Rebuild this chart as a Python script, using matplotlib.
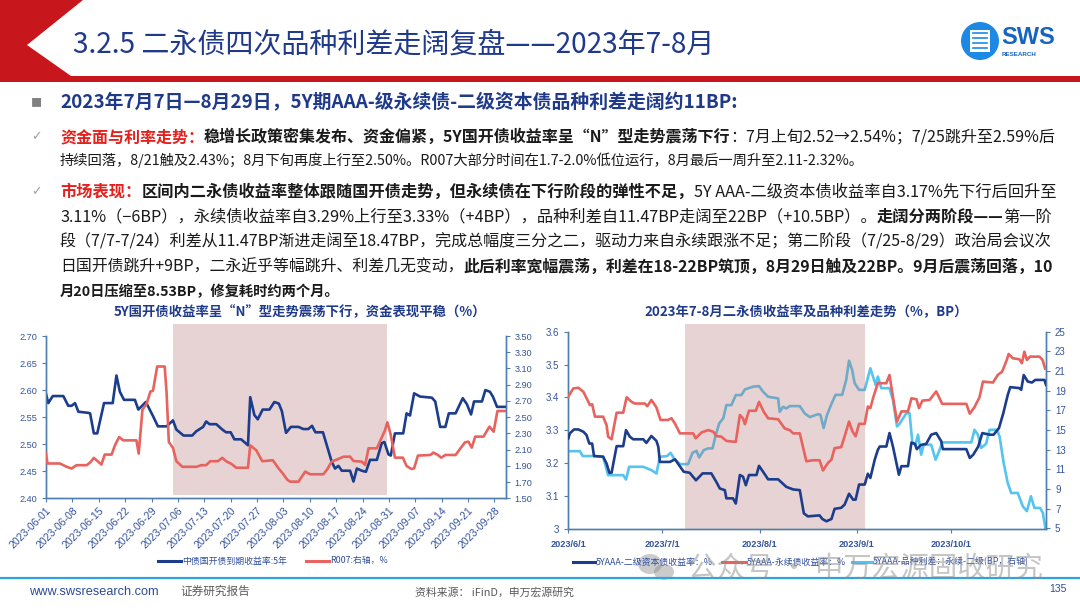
import numpy as np
import pandas as pd
import matplotlib
matplotlib.use('Agg')
import matplotlib.pyplot as plt
import matplotlib.dates as mdates
from matplotlib.patches import Rectangle, Polygon, Ellipse
from matplotlib.lines import Line2D
from matplotlib.ticker import FuncFormatter

# ---------------- data (day offsets from 2023-06-01) -------------
start = pd.Timestamp('2023-06-01')

# left chart: 5Y CDB yield (left axis) and R007 (right axis)
cdb_day = [0, 0.6, 1.8, 4.6, 5.9, 6.8, 7.7, 8.6, 11.2, 11.7, 12.7, 13.6, 15.4, 17.7, 18.7, 19.6,
           20.7, 23.6, 24.5, 26.5, 28.4, 29.7, 32.0, 33.7, 34.6, 36.5, 38.8, 39.9, 41.7, 42.5,
           43.4, 45.2, 46.8, 47.8, 49.0, 50.0, 51.8, 53.6, 54.2, 55.3, 56.2, 57.5, 59.3, 60.6,
           61.8, 62.6, 63.7, 65.0, 67.0, 68.3, 69.6, 70.6, 71.5, 73.5, 75.8, 76.7, 77.6, 78.5,
           80.7, 81.6, 82.5, 83.8, 84.9, 86.0, 87.8, 89.1, 89.8, 90.9, 91.5, 92.6, 94.8, 95.7,
           96.6, 97.7, 99.3, 102.4, 103.3, 104.6, 106.0, 106.9, 108.7, 110.6, 111.7, 112.8,
           113.6, 115.7, 116.6, 117.8, 118.6, 119.7, 121.9]
cdb_val = [2.593, 2.576, 2.589, 2.589, 2.571, 2.571, 2.576, 2.560, 2.558, 2.557, 2.520, 2.520,
           2.576, 2.576, 2.627, 2.597, 2.582, 2.582, 2.564, 2.578, 2.552, 2.533, 2.533, 2.544,
           2.527, 2.516, 2.516, 2.524, 2.532, 2.542, 2.537, 2.537, 2.527, 2.522, 2.522, 2.509,
           2.509, 2.498, 2.587, 2.554, 2.546, 2.564, 2.564, 2.578, 2.575, 2.561, 2.521, 2.532,
           2.532, 2.528, 2.528, 2.534, 2.522, 2.522, 2.468, 2.455, 2.460, 2.451, 2.451, 2.431,
           2.455, 2.451, 2.449, 2.471, 2.471, 2.502, 2.504, 2.481, 2.479, 2.520, 2.520, 2.557,
           2.553, 2.594, 2.588, 2.586, 2.579, 2.532, 2.532, 2.557, 2.557, 2.585, 2.574, 2.555,
           2.579, 2.579, 2.600, 2.597, 2.588, 2.569, 2.569]

r007_day = [0, 0.4, 3.7, 5.5, 6.8, 8.1, 10.8, 11.7, 12.7, 13.9, 14.7, 15.6, 17.4, 18.3, 19.4,
            20.5, 24.0, 24.6, 25.6, 26.7, 27.7, 28.4, 29.5, 31.5, 32.0, 32.6, 33.7, 34.6, 36.2,
            39.9, 41.2, 42.5, 43.6, 45.6, 46.8, 47.8, 49.2, 50.5, 53.6, 54.2, 55.8, 57.4, 60.2,
            61.7, 62.8, 64.1, 64.8, 67.0, 68.8, 70.1, 73.6, 74.7, 75.8, 77.6, 79.0, 80.7, 81.6,
            83.8, 84.7, 85.6, 87.8, 88.8, 89.9, 90.6, 91.5, 92.6, 94.7, 95.7, 97.0, 97.7, 98.7,
            102.0, 102.8, 104.0, 104.9, 106.0, 108.7, 110.0, 111.2, 112.1, 113.0, 113.9, 116.1,
            117.7, 118.8, 119.8, 121.9]
r007_val = [2.051, 1.929, 1.929, 1.888, 1.867, 1.908, 1.908, 1.941, 1.998, 1.949, 1.916, 2.039,
            2.039, 2.153, 2.255, 2.214, 2.214, 2.051, 2.594, 2.663, 2.814, 2.827, 3.124, 3.124,
            2.800, 2.194, 2.120, 1.957, 1.888, 1.888, 1.908, 1.908, 1.957, 1.957, 1.998, 1.957,
            1.924, 1.876, 1.876, 2.153, 2.092, 1.957, 1.969, 1.870, 1.808, 1.726, 1.705, 1.705,
            1.829, 1.796, 1.796, 1.861, 1.952, 1.985, 2.013, 2.013, 1.960, 1.952, 1.911, 2.116,
            2.116, 2.219, 2.330, 2.436, 2.280, 2.001, 2.001, 1.898, 1.861, 1.870, 2.026, 2.034,
            2.063, 2.034, 2.001, 2.034, 2.034, 2.116, 2.190, 2.198, 2.124, 2.260, 2.260, 2.383,
            2.321, 2.576, 2.576]

# right chart: 5Y AAA- tier2 yield, perpetual yield (left axis), spread in BP (right axis)
t2_day = [0, 0.5, 1.8, 3.2, 4.8, 5.8, 6.7, 7.6, 8.2, 11.1, 12.2, 13.1, 13.8, 15.4, 17.5, 18.4,
          19.6, 20.7, 23.9, 24.9, 26.5, 28.1, 28.7, 29.2, 32.4, 34.0, 36.8, 38.7, 40.7, 42.8,
          45.6, 47.2, 48.3, 49.9, 50.4, 52.5, 53.4, 54.7, 55.7, 56.6, 57.6, 60.0, 60.8, 62.1,
          63.7, 66.9, 69.5, 71.7, 73.8, 75.1, 76.4, 80.1, 81.0, 82.3, 83.9, 84.9, 87.0, 88.1,
          89.5, 90.8, 91.6, 92.7, 94.5, 95.5, 96.3, 97.7, 98.7, 99.3, 101.4, 102.4, 103.5, 105.4,
          106.2, 108.3, 109.4, 110.5, 111.1, 112.5, 114.1, 115.7, 117.3, 118.9, 119.4, 126.9,
          128.0, 129.1, 130.7, 132.0, 134.3, 135.6, 137.3, 138.7, 140.1, 140.9, 143.8, 144.4,
          145.2, 146.5, 147.8, 148.9, 151.8, 152.3]
t2_val = [3.275, 3.290, 3.302, 3.302, 3.295, 3.285, 3.259, 3.259, 3.221, 3.219, 3.198, 3.170,
          3.170, 3.251, 3.251, 3.300, 3.280, 3.272, 3.272, 3.261, 3.282, 3.267, 3.249, 3.203,
          3.203, 3.211, 3.173, 3.170, 3.147, 3.168, 3.168, 3.142, 3.122, 3.117, 3.092, 3.092,
          3.076, 3.163, 3.158, 3.132, 3.163, 3.163, 3.191, 3.173, 3.150, 3.150, 3.127, 3.119,
          3.117, 3.046, 3.037, 3.040, 3.029, 3.022, 3.029, 3.060, 3.063, 3.073, 3.106, 3.088,
          3.088, 3.134, 3.134, 3.167, 3.154, 3.210, 3.240, 3.250, 3.250, 3.291, 3.250, 3.164,
          3.190, 3.190, 3.262, 3.258, 3.242, 3.255, 3.258, 3.286, 3.291, 3.266, 3.242, 3.242,
          3.215, 3.225, 3.250, 3.291, 3.286, 3.286, 3.306, 3.352, 3.407, 3.431, 3.428, 3.423,
          3.468, 3.448, 3.445, 3.453, 3.453, 3.438]

perp_day = [0, 0.5, 1.6, 3.2, 4.8, 6.1, 6.9, 7.6, 8.5, 11.1, 12.2, 12.7, 13.8, 15.4, 17.5, 18.6,
            20.2, 21.2, 24.4, 25.2, 26.5, 28.1, 29.4, 31.8, 32.9, 34.0, 35.6, 39.8, 40.6, 42.5,
            44.6, 46.2, 47.2, 48.8, 50.4, 53.4, 54.7, 55.7, 56.3, 57.6, 59.8, 60.8, 62.3, 63.7,
            66.9, 69.0, 70.6, 71.7, 73.8, 74.8, 75.9, 78.0, 80.1, 81.2, 82.8, 83.9, 84.9, 87.0,
            88.1, 89.5, 90.6, 91.6, 92.7, 94.5, 95.5, 96.3, 97.3, 98.7, 101.4, 102.4, 103.5,
            104.8, 106.2, 108.3, 109.4, 111.0, 111.8, 112.9, 115.2, 117.3, 119.2, 126.9, 128.0,
            129.5, 131.1, 132.2, 135.4, 136.9, 138.3, 139.8, 140.4, 141.7, 143.8, 144.6, 145.4,
            146.2, 147.2, 150.2, 151.2, 152.0]
perp_val = [3.402, 3.410, 3.427, 3.429, 3.417, 3.392, 3.376, 3.379, 3.341, 3.341, 3.315, 3.280,
            3.272, 3.353, 3.353, 3.400, 3.386, 3.381, 3.381, 3.373, 3.392, 3.369, 3.331, 3.331,
            3.336, 3.320, 3.290, 3.290, 3.275, 3.293, 3.300, 3.295, 3.282, 3.280, 3.267, 3.264,
            3.346, 3.336, 3.318, 3.359, 3.359, 3.386, 3.356, 3.336, 3.333, 3.305, 3.300, 3.290,
            3.290, 3.249, 3.205, 3.208, 3.208, 3.177, 3.200, 3.210, 3.245, 3.248, 3.281, 3.326,
            3.296, 3.281, 3.319, 3.319, 3.372, 3.367, 3.402, 3.443, 3.443, 3.468, 3.402, 3.326,
            3.357, 3.357, 3.397, 3.394, 3.367, 3.390, 3.392, 3.418, 3.380, 3.380, 3.350, 3.370,
            3.400, 3.448, 3.445, 3.468, 3.478, 3.514, 3.532, 3.519, 3.516, 3.504, 3.539, 3.514,
            3.524, 3.524, 3.514, 3.488]

spr_day = [0, 3.7, 4.6, 8.0, 11.1, 12.7, 17.5, 18.4, 19.4, 23.9, 25.2, 26.5, 28.1, 29.2, 31.5,
           32.6, 33.7, 35.6, 38.2, 39.6, 40.9, 41.7, 43.2, 44.6, 46.0, 47.0, 48.1, 49.4, 50.4,
           52.0, 53.4, 55.2, 56.3, 58.9, 60.8, 62.1, 63.7, 66.9, 67.4, 68.5, 69.5, 70.6, 73.8,
           75.4, 77.0, 79.6, 80.4, 81.4, 82.5, 83.9, 85.2, 87.3, 88.6, 89.5, 90.5, 91.3, 92.7,
           94.5, 96.3, 97.3, 98.0, 98.7, 99.8, 102.4, 103.5, 104.8, 105.6, 107.8, 108.8, 109.7,
           110.7, 111.5, 112.5, 113.3, 115.7, 117.1, 118.2, 119.2, 128.5, 129.5, 130.6, 131.6,
           133.2, 134.3, 136.6, 137.5, 138.8, 140.1, 141.2, 143.3, 144.9, 146.2, 147.5, 148.6,
           150.4, 151.3, 152.1]
spr_val = [12.86, 12.86, 12.36, 12.36, 12.29, 10.42, 10.42, 9.98, 11.27, 11.27, 11.10, 10.93,
           10.59, 12.29, 12.36, 12.69, 12.12, 11.54, 11.54, 12.69, 12.90, 12.22, 12.97, 13.14,
           13.14, 14.49, 15.68, 16.19, 17.54, 17.54, 18.56, 18.56, 19.14, 19.41, 19.47, 18.90,
           18.39, 18.22, 16.86, 17.37, 17.20, 17.44, 17.44, 16.69, 16.32, 16.62, 16.55, 15.20,
           16.55, 17.67, 18.58, 18.58, 20.10, 22.06, 21.11, 19.76, 19.09, 19.09, 21.28, 20.27,
           19.59, 20.44, 19.26, 19.26, 18.07, 15.37, 15.64, 16.72, 16.72, 13.68, 13.51, 14.53,
           12.50, 13.51, 13.51, 11.99, 12.84, 13.75, 13.75, 15.03, 14.53, 13.18, 13.61, 15.03,
           15.03, 14.36, 11.66, 9.63, 8.61, 8.61, 7.26, 6.76, 8.28, 7.09, 7.09, 6.59, 5.07]

# shaded windows (day offsets)
left_shade = (33.8, 90.4)
right_shade = (37.3, 94.6)

left_xticks = pd.date_range('2023-06-01', '2023-09-28', freq='7D')
right_xticks = pd.date_range('2023-06-01', '2023-10-01', freq='MS')

left_legend = ['中债国开债到期收益率:5年', 'R007:右轴，%']
right_legend = ['5YAAA-二级资本债收益率：%', '5YAAA-永续债收益率：%', '5YAAA-品种利差：永续-二级(BP，右轴)']

# ---------------- style ----------------
W, H = 1080, 608
CJK = ['Noto Sans CJK SC', 'DejaVu Sans']
ARIAL = ['Liberation Sans', 'DejaVu Sans']
plt.rcParams['font.family'] = CJK
NAVY = '#1F3A8A'
RED = '#E3201B'
BLK = '#1A1A1A'
AXC = '#4F7FB0'
TICKC = '#33539A'
C_NAVY = '#1C3C8C'
C_RED = '#E8625E'
C_LB = '#55C4EE'


def fx(x):
    return x / W


def fy(y):
    return 1 - y / H


def dates(days):
    return start + pd.to_timedelta(np.array(days), unit='D')


fig = plt.figure(figsize=(10.8, 6.08), dpi=100)
fig.patch.set_facecolor('white')
rend = fig.canvas.get_renderer()


def put_runs(x0, y, runs, size, fit=None):
    texts = []
    x = x0
    for s, c, w in runs:
        t = fig.text(fx(x), fy(y), s, fontsize=size, color=c, fontweight=w,
                     va='center', ha='left', family=CJK)
        texts.append(t)
        x += t.get_window_extent(rend).width
    if fit:
        k = (fit - x0) / (x - x0)
        x = x0
        for t in texts:
            t.set_fontsize(size * k)
            t.set_x(fx(x))
            x += t.get_window_extent(rend).width
    return texts


# ---------------- header ----------------
red_pts = [(0, 0), (83, 0), (27, 45), (71, 76), (1080, 76), (1080, 82), (0, 82)]
fig.patches.append(Polygon([(fx(a), fy(b)) for a, b in red_pts], closed=True,
                           transform=fig.transFigure, facecolor='#C8161D', edgecolor='none'))
put_runs(73, 45, [('3.2.5 二永债四次品种利差走阔复盘——2023年7-8月', NAVY, 'normal')], 19, fit=716)

# logo
fig.patches.append(Ellipse((fx(980), fy(41)), 38 / W, 38 / H, transform=fig.transFigure,
                           facecolor='#1E88E5', edgecolor='none'))
fig.patches.append(Rectangle((fx(970), fy(52)), 20 / W, 22 / H, transform=fig.transFigure,
                             facecolor='white', edgecolor='none'))
for yy in (33, 38, 43, 48):
    fig.add_artist(Line2D([fx(973), fx(987)], [fy(yy)] * 2, color='#1E88E5', lw=1.2,
                          transform=fig.transFigure))
fig.text(fx(1001), fy(37), 'SWS', fontsize=17, fontweight='bold', color='#1565C0',
         family=ARIAL, va='center', ha='left')
fig.text(fx(1002), fy(55), 'RESEARCH', fontsize=4.5, fontweight='bold', color='#1565C0',
         family=ARIAL, va='center', ha='left')

# ---------------- body text ----------------
fig.text(fx(31), fy(103), '■', fontsize=8, color='#808080', va='center', ha='left', family=CJK)
put_runs(60, 103, [('2023年7月7日—8月29日，5Y期AAA-级永续债-二级资本债品种利差走阔约11BP:', NAVY, 'bold')],
         11.5, fit=737)

for yy in (137, 192):
    fig.text(fx(31), fy(yy), '✓', fontsize=9, color='#A0A0A0', va='center', ha='left',
             family=['DejaVu Sans'])

R, B, N = 'bold', 'bold', 'normal'
para_lines = [
    (137, [('资金面与利率走势：', RED, R), ('稳增长政策密集发布、资金偏紧，5Y国开债收益率呈“N”型走势震荡下行', BLK, B),
           ('：7月上旬2.52→2.54%；7/25跳升至2.59%后', BLK, N)], 1052),
    (160, [('持续回落，8/21触及2.43%；8月下旬再度上行至2.50%。R007大部分时间在1.7-2.0%低位运行，8月最后一周升至2.11-2.32%。', BLK, N)], None),
    (192, [('市场表现：', RED, R), ('区间内二永债收益率整体跟随国开债走势，但永续债在下行阶段的弹性不足，', BLK, B),
           ('5Y AAA-二级资本债收益率自3.17%先下行后回升至', BLK, N)], 1052),
    (217, [('3.11%（−6BP），永续债收益率自3.29%上行至3.33%（+4BP），品种利差自11.47BP走阔至22BP（+10.5BP）。', BLK, N),
           ('走阔分两阶段——', BLK, B), ('第一阶', BLK, N)], 1052),
    (242, [('段（7/7-7/24）利差从11.47BP渐进走阔至18.47BP，完成总幅度三分之二，驱动力来自永续跟涨不足；第二阶段（7/25-8/29）政治局会议次', BLK, N)], 1052),
    (267, [('日国开债跳升+9BP，二永近乎等幅跳升、利差几无变动，', BLK, N),
           ('此后利率宽幅震荡，利差在18-22BP筑顶，8月29日触及22BP。9月后震荡回落，10', BLK, B)], 1052),
    (292, [('月20日压缩至8.53BP，修复耗时约两个月。', BLK, B)], None),
]
for yy, runs, fit in para_lines:
    put_runs(60, yy, runs, 10.3, fit=fit)

# ---------------- chart titles ----------------
fig.text(fx(300), fy(312), '5Y国开债收益率呈“N”型走势震荡下行，资金表现平稳（%）', fontsize=9.6,
         fontweight='bold', color=NAVY, ha='center', va='center')
fig.text(fx(806), fy(312), '2023年7-8月二永债收益率及品种利差走势（%，BP）', fontsize=9.6,
         fontweight='bold', color=NAVY, ha='center', va='center')


def style_axes(ax, ax2):
    for a in (ax, ax2):
        a.spines['top'].set_visible(False)
        for s in ('left', 'right', 'bottom'):
            a.spines[s].set_color(AXC)
            a.spines[s].set_linewidth(1.0)
        a.tick_params(colors=AXC, labelcolor=TICKC, labelsize=6.6, length=3, width=0.8)
        for lab in a.get_yticklabels() + a.get_xticklabels():
            lab.set_family(ARIAL)


# ---------------- left chart ----------------
axL = fig.add_axes([fx(46), fy(498.3), 459.7 / W, 162.3 / H])
axL2 = axL.twinx()
s0 = mdates.date2num(start)
axL.add_patch(Rectangle((s0 + left_shade[0], 2.406), left_shade[1] - left_shade[0], 0.316,
                        facecolor='#B07070', alpha=0.3, edgecolor='none', clip_on=False, zorder=0))
axL.plot(dates(cdb_day), cdb_val, color=C_NAVY, lw=1.9, zorder=3)
axL2.plot(dates(r007_day), r007_val, color=C_RED, lw=1.9, zorder=3)
axL.set_xlim(start, start + pd.Timedelta(days=122))
axL.set_ylim(2.40, 2.70)
axL2.set_ylim(1.50, 3.50)
axL.set_yticks(np.round(np.arange(2.40, 2.701, 0.05), 2))
axL2.set_yticks(np.round(np.arange(1.50, 3.501, 0.20), 2))
axL.yaxis.set_major_formatter(FuncFormatter(lambda v, p: f'{v:.2f}'))
axL2.yaxis.set_major_formatter(FuncFormatter(lambda v, p: f'{v:.2f}'))
axL.set_xticks(left_xticks)
axL.set_xticklabels([d.strftime('%Y-%m-%d') for d in left_xticks], rotation=45, ha='right',
                    va='top', rotation_mode='anchor')
style_axes(axL, axL2)
axL.tick_params(axis='x', labelsize=7.6, pad=2)

# ---------------- right chart ----------------
axR = fig.add_axes([fx(568.3), fy(528.5), 477.7 / W, 196.8 / H])
axR2 = axR.twinx()
axR.set_zorder(axR2.get_zorder() + 1)
axR.patch.set_visible(False)
axR2.plot(dates(spr_day), spr_val, color=C_LB, lw=1.9, zorder=2)
axR.add_patch(Rectangle((s0 + right_shade[0], 3.0), right_shade[1] - right_shade[0], 0.623,
                        facecolor='#B07070', alpha=0.3, edgecolor='none', clip_on=False, zorder=0))
axR.plot(dates(perp_day), perp_val, color=C_RED, lw=1.9, zorder=3)
axR.plot(dates(t2_day), t2_val, color=C_NAVY, lw=1.9, zorder=4)
axR.set_xlim(start, start + pd.Timedelta(days=152.3))
axR.set_ylim(3.0, 3.6)
axR2.set_ylim(5, 25)
axR.set_yticks(np.round(np.arange(3.0, 3.61, 0.1), 1))
axR2.set_yticks(np.arange(5, 26, 2))
axR.yaxis.set_major_formatter(FuncFormatter(lambda v, p: f'{v:g}'))
axR.set_xticks(right_xticks)
axR.set_xticklabels([f'{d.year}/{d.month}/{d.day}' for d in right_xticks], fontweight='bold')
style_axes(axR, axR2)
axR.tick_params(axis='x', labelsize=6.6, pad=5)
axR.tick_params(axis='y', labelsize=7)
axR2.tick_params(axis='y', labelsize=7)


# ---------------- legends ----------------
def legend_item(x1, x2, y, color, label):
    fig.add_artist(Line2D([fx(x1), fx(x2)], [fy(y)] * 2, color=color, lw=2.2,
                          transform=fig.transFigure))
    fig.text(fx(x2 + 1), fy(y), label, fontsize=6.4, color='#2E4E9E', va='center', ha='left')


legend_item(158, 181, 561, C_NAVY, left_legend[0])
legend_item(306, 329, 561, C_RED, left_legend[1])
legend_item(573, 595, 562, C_NAVY, right_legend[0])
legend_item(722, 746, 562, C_RED, right_legend[1])
legend_item(852, 872, 562, C_LB, right_legend[2])

# watermark (WeChat overlay in the reference)
fig.patches.append(Ellipse((fx(650), fy(564)), 24 / W, 20 / H, transform=fig.transFigure,
                           facecolor='#8c8c8c', alpha=0.45, edgecolor='none'))
fig.patches.append(Ellipse((fx(664), fy(572)), 20 / W, 16 / H, transform=fig.transFigure,
                           facecolor='#8c8c8c', alpha=0.45, edgecolor='none'))
wm = put_runs(688, 569, [('公众号 · 申万宏源固收研究', '#8c8c8c', 'normal')], 22, fit=1043)
for t in wm:
    t.set_alpha(0.5)

# ---------------- footer ----------------
fig.add_artist(Line2D([0, 1], [fy(578)] * 2, color='#2FA4DC', lw=1.6, transform=fig.transFigure))
fig.text(fx(29), fy(592), 'www.swsresearch.com', fontsize=9.2, color='#2B4C9B', family=ARIAL,
         va='center', ha='left')
fig.text(fx(180), fy(591), '证券研究报告', fontsize=8.4, color='#595959', va='center', ha='left')
fig.text(fx(415), fy(593), '资料来源： iFinD，申万宏源研究', fontsize=7.8, color='#595959',
         va='center', ha='left')
fig.text(fx(1049), fy(589), '135', fontsize=7.5, color='#2B4C9B', family=ARIAL,
         va='center', ha='left')

fig.savefig('out.png', dpi=100, facecolor='white')
